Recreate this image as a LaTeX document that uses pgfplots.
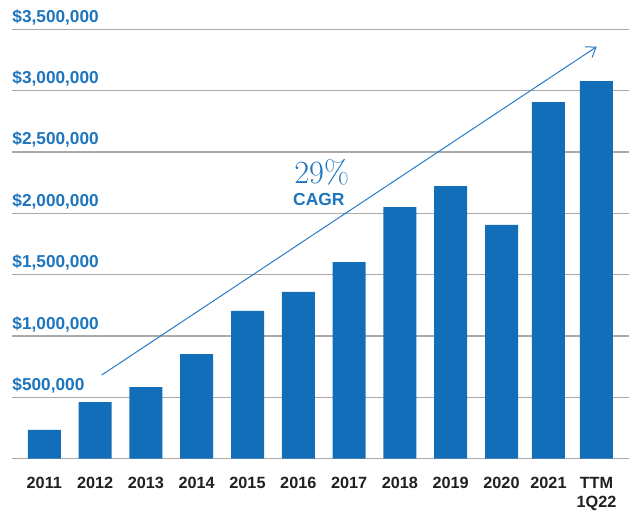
\documentclass[border=0pt]{standalone}
\usepackage{fontspec}
\usepackage{pgfplots}
\pgfplotsset{compat=1.18}
\usetikzlibrary{arrows.meta}
\newfontfamily\labsans{Liberation Sans}
\definecolor{barblue}{RGB}{18,110,184}
\definecolor{labblue}{RGB}{28,117,190}
\definecolor{arrowblue}{RGB}{40,122,200}
\definecolor{gridgray}{RGB}{170,170,170}
\definecolor{xlab}{RGB}{35,31,32}
\begin{document}
\begin{tikzpicture}
\useasboundingbox (0,0) rectangle (633bp,511bp);
\begin{axis}[
  at={(12bp,52.3bp)}, anchor=south west,
  scale only axis, width=617bp, height=429.4bp,
  xmin=-0.636, xmax=11.51, ymin=0, ymax=3500000,
  clip=false,
  axis line style={draw=none},
  tick style={draw=none},
  ymajorgrids, grid style={gridgray, line width=1.1bp},
  ytick={0,500000,1000000,1500000,2000000,2500000,3000000,3500000},
  yticklabels={,{\$500,000},{\$1,000,000},{\$1,500,000},{\$2,000,000},{\$2,500,000},{\$3,000,000},{\$3,500,000}},
  yticklabel style={anchor=base west, inner sep=0pt, yshift=7.0bp, xshift=0.3bp,
     font=\labsans\bfseries\fontsize{17.3}{20.8}\selectfont, text=labblue},
  xtick={0,1,2,3,4,5,6,7,8,9,9.925,10.87},
  xticklabels={2011,2012,2013,2014,2015,2016,2017,2018,2019,2020,2021,{TTM\\1Q22}},
  xticklabel style={anchor=north, inner sep=0pt, yshift=-18.4bp, align=center,
     font=\labsans\bfseries\fontsize{16.3}{19.2}\selectfont, text=xlab},
  /pgf/number format/assume math mode=true,
  scaled y ticks=false,
]
\addplot[ybar, bar width=33bp, fill=barblue, draw=none] coordinates {
  (0,234000) (1,462000) (2,584000) (3,853000) (4,1204000) (5,1359000)
  (6,1603000) (7,2051000) (8,2222000) (9,1905000) (9.925,2907000) (10.87,3078000)
};
\draw[arrowblue, line width=1bp, -{Straight Barb[length=9bp,width=13bp,line width=1bp]}]
  (axis cs:1.13,682000) -- (axis cs:10.874,3358000);
\node[anchor=base, inner sep=0pt, text=labblue, font=\fontsize{32.5}{38}\selectfont]
  at (axis cs:5.46,2245000) {29\%};
\node[anchor=base, inner sep=0pt, text=labblue, font=\labsans\bfseries\fontsize{17.5}{21}\selectfont]
  at (axis cs:5.405,2062000) {CAGR};
\end{axis}
\end{tikzpicture}
\end{document}
